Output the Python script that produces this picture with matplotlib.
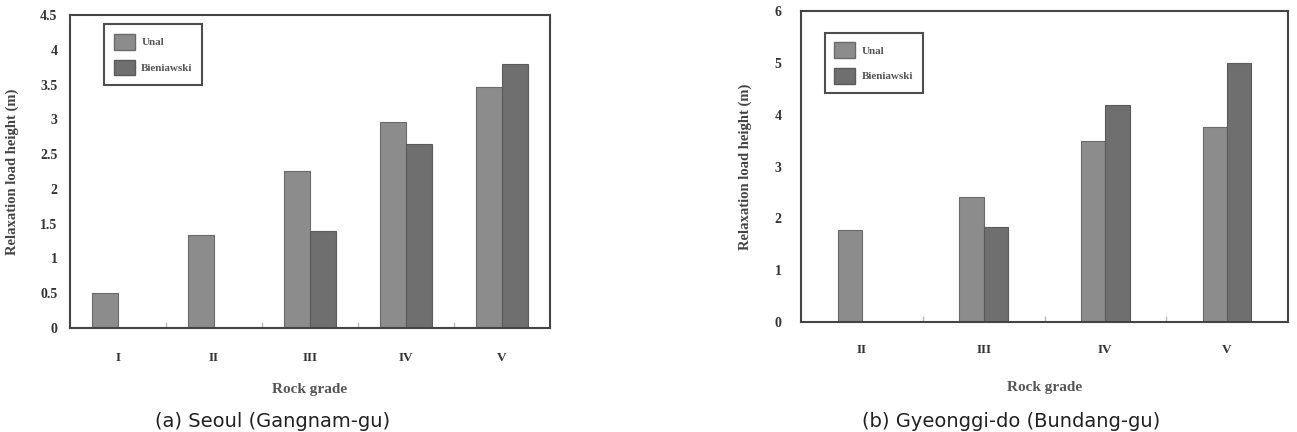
import numpy as np
import matplotlib
matplotlib.use("Agg")
import matplotlib.pyplot as plt
from matplotlib.patches import Patch

# (a) Seoul (Gangnam-gu)
grades_a = ["I", "II", "III", "IV", "V"]
unal_a = [0.5, 1.34, 2.26, 2.96, 3.46]
bien_a = [0, 0, 1.39, 2.64, 3.8]

# (b) Gyeonggi-do (Bundang-gu)
grades_b = ["II", "III", "IV", "V"]
unal_b = [1.78, 2.42, 3.5, 3.77]
bien_b = [0, 1.83, 4.19, 5.0]

serif = "Liberation Serif"
c_unal = "#8c8c8c"
c_bien = "#6f6f6f"
txt = "#333333"


def draw_panel(ax, grades, unal, bien, width, ymax, ystep, legend_x, legend_y,
               ypad, xpad, xlabelpad):
    x = np.arange(len(grades))
    ax.bar(x - width / 2, unal, width, color=c_unal, edgecolor="#6a6a6a", linewidth=0.8)
    ax.bar(x + width / 2, bien, width, color=c_bien, edgecolor="#5a5a5a", linewidth=0.8)
    ax.set_xlim(-0.5, len(grades) - 0.5)
    ax.set_ylim(0, ymax)
    yt = np.arange(0, ymax + 0.01, ystep)
    ax.set_yticks(yt)
    ax.set_yticklabels([f"{v:g}" for v in yt],
                       fontfamily=serif, fontweight="bold", fontsize=10, color=txt)
    ax.set_xticks(x)
    ax.set_xticklabels(grades, fontfamily=serif, fontweight="bold", fontsize=9.5, color=txt)
    ax.set_xticks(x[:-1] + 0.5, minor=True)
    ax.tick_params(axis="x", which="major", length=0, pad=xpad)
    ax.tick_params(axis="x", which="minor", direction="in", length=4, color="#bbbbbb", width=1)
    ax.tick_params(axis="y", length=0, pad=ypad)
    for s in ax.spines.values():
        s.set_color("#444444")
        s.set_linewidth(1.5)
    ax.set_xlabel("Rock grade", fontfamily=serif, fontweight="bold", fontsize=11,
                  color="#555555", labelpad=xlabelpad)
    ax.set_ylabel("Relaxation load height (m)", fontfamily=serif, fontweight="bold",
                  fontsize=10.5, color="#444444")
    handles = [Patch(facecolor=c_unal, edgecolor="#6a6a6a", label="Unal"),
               Patch(facecolor=c_bien, edgecolor="#5a5a5a", label="Bieniawski")]
    leg = ax.legend(handles=handles, loc="upper left", bbox_to_anchor=(legend_x, legend_y),
                    frameon=True, fancybox=False, handlelength=1.9, handleheight=1.8,
                    labelspacing=0.9, borderpad=0.85, handletextpad=0.6, borderaxespad=0,
                    prop={"family": serif, "weight": "bold", "size": 8})
    leg.get_frame().set_edgecolor("#222222")
    leg.get_frame().set_linewidth(1.5)
    for t in leg.get_texts():
        t.set_color("#555555")


fig = plt.figure(figsize=(12.97, 4.32), dpi=100)
W, H = 1297, 432
ax1 = fig.add_axes([70 / W, 1 - 328 / H, 480 / W, 313 / H])
ax2 = fig.add_axes([801 / W, 1 - 322 / H, 487 / W, 311 / H])

draw_panel(ax1, grades_a, unal_a, bien_a, 0.27, 4.5, 0.5, 0.071, 0.97, 9, 17, 14)
ax1.yaxis.set_label_coords(-0.106, 0.5)
draw_panel(ax2, grades_b, unal_b, bien_b, 0.2, 6, 1, 0.049, 0.93, 14, 16, 18)
ax2.yaxis.set_label_coords(-0.1, 0.5)

fig.text(273 / W, 1 / H, "(a) Seoul (Gangnam-gu)", ha="center", va="bottom",
         fontsize=14, color="#222222", family="DejaVu Sans")
fig.text(1011 / W, 1 / H, "(b) Gyeonggi-do (Bundang-gu)", ha="center", va="bottom",
         fontsize=14, color="#222222", family="DejaVu Sans")

fig.savefig("out.png", dpi=100)
